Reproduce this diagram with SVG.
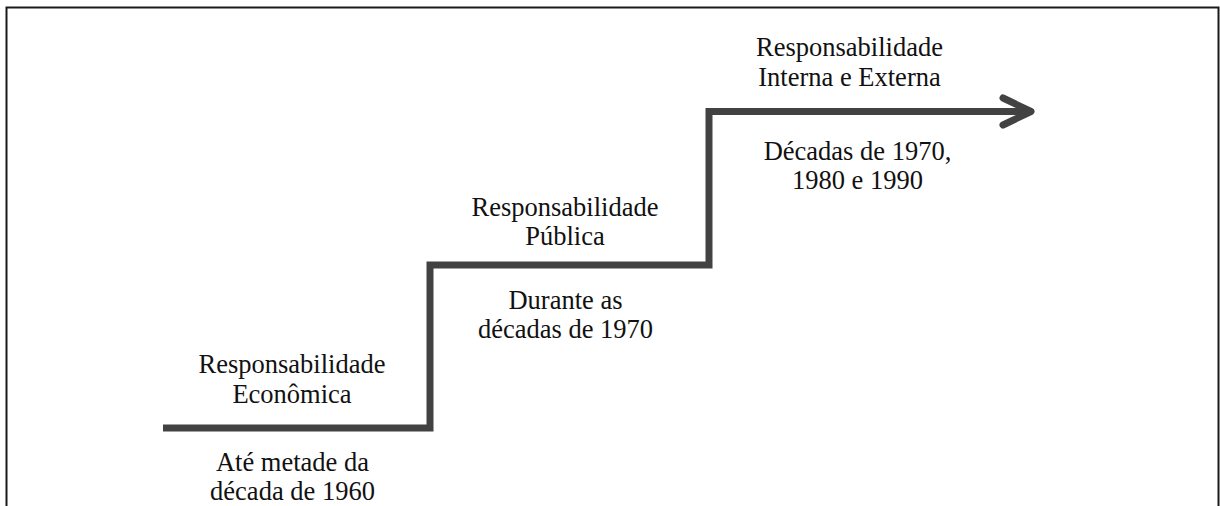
<svg xmlns="http://www.w3.org/2000/svg" width="1220" height="506" viewBox="0 0 1220 506">
  <style>
    .frame { fill: none; stroke: #1a1a1a; stroke-width: 2; }
    .step { fill: none; stroke: #424242; stroke-width: 7; stroke-linejoin: miter; stroke-linecap: butt; }
    .head { fill: none; stroke: #424242; stroke-width: 7; stroke-linejoin: round; stroke-linecap: round; }
    .lbl { font-family: "Liberation Serif", "Times New Roman", serif; font-size: 26.5px; fill: #111; text-anchor: middle; }
  </style>

  <rect width="1220" height="506" fill="#ffffff"/>
  <!-- outer frame, open at the bottom edge -->
  <rect class="frame" x="6.5" y="7.5" width="1212" height="520"/>

  <!-- staircase timeline -->
  <g id="connectors">
    <path class="step" d="M163,428 H430 V265 H709 V111.5 H1029"/>
    <polyline class="head" points="1003,98 1031,111.5 1003,125"/>
  </g>

  <g id="stage-economica">
    <text class="lbl" x="292" y="373">Responsabilidade</text>
    <text class="lbl" x="292" y="403">Econômica</text>
  </g>
  <g id="period-economica">
    <text class="lbl" x="292.5" y="471">Até metade da</text>
    <text class="lbl" x="292.5" y="499.5">década de 1960</text>
  </g>

  <g id="stage-publica">
    <text class="lbl" x="565" y="216">Responsabilidade</text>
    <text class="lbl" x="565" y="245">Pública</text>
  </g>
  <g id="period-publica">
    <text class="lbl" x="565.5" y="308.5">Durante as</text>
    <text class="lbl" x="565.5" y="337.5">décadas de 1970</text>
  </g>

  <g id="stage-interna-externa">
    <text class="lbl" x="849.5" y="56">Responsabilidade</text>
    <text class="lbl" x="849.5" y="86">Interna e Externa</text>
  </g>
  <g id="period-interna-externa">
    <text class="lbl" x="857.5" y="159.5">Décadas de 1970,</text>
    <text class="lbl" x="857.5" y="188.5">1980 e 1990</text>
  </g>
</svg>
